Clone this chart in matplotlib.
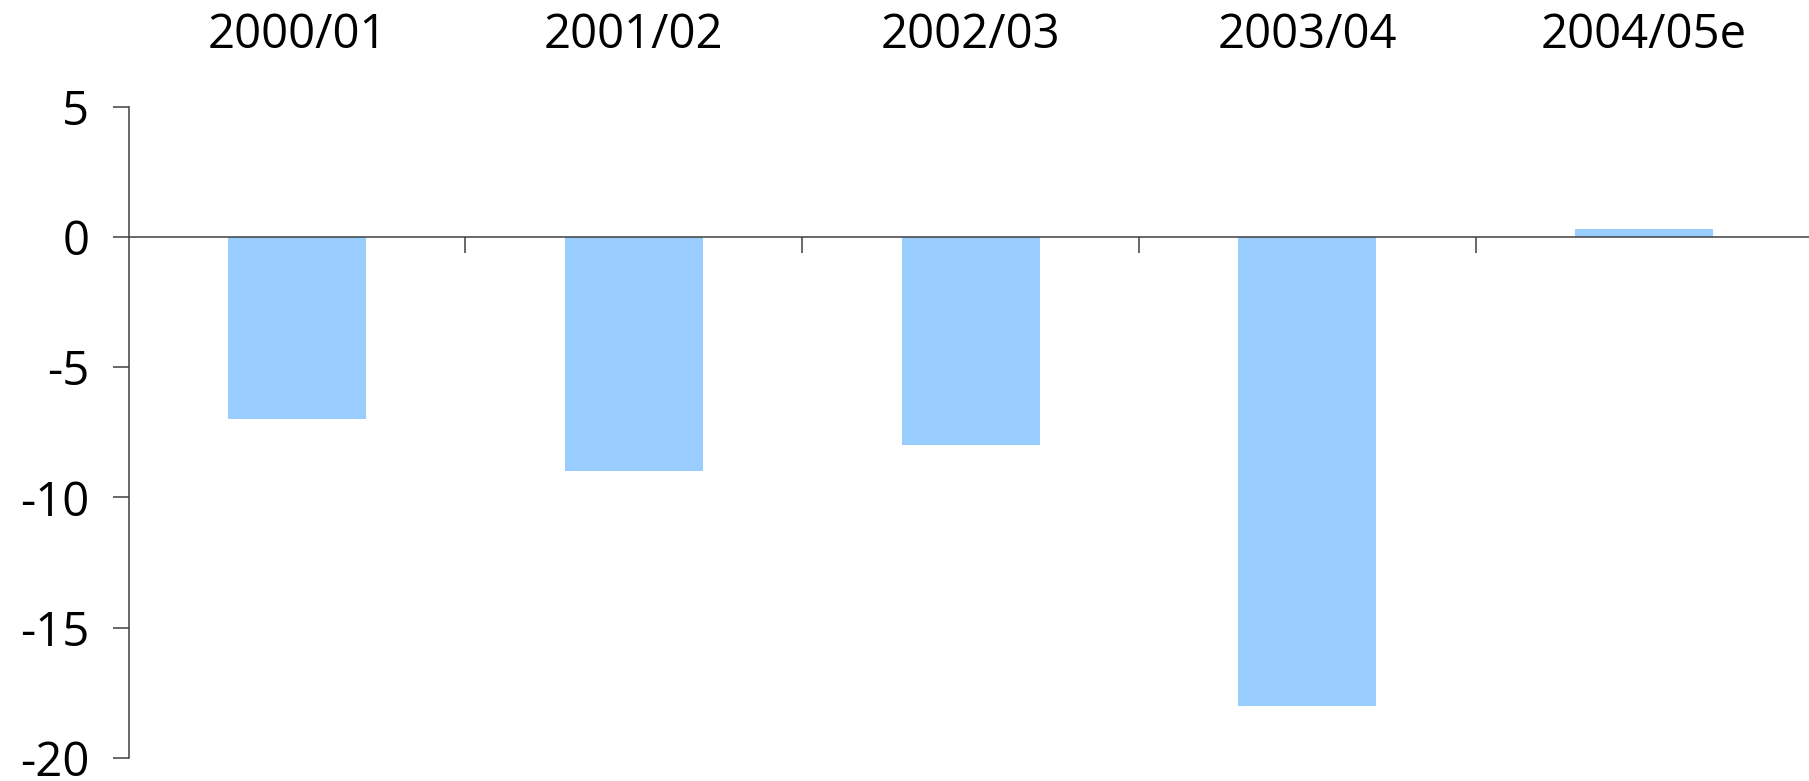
import numpy as np
import matplotlib
matplotlib.use('Agg')
import matplotlib.pyplot as plt
from matplotlib.transforms import blended_transform_factory

# datos
periodos = ['2000/01', '2001/02', '2002/03', '2003/04', '2004/05e']
valores = [-7.0, -9.0, -8.0, -18.0, 0.3]
yticks = [5, 0, -5, -10, -15, -20]

plt.rcParams['font.family'] = ['Open Sans', 'DejaVu Sans']
plt.rcParams['axes.unicode_minus'] = False

gris = '#404040'
fig = plt.figure(figsize=(18.09, 7.81), dpi=100)
ax = fig.add_axes([0.0712, 0.0298, 0.9306, 0.8336])

x = np.arange(len(periodos))
ax.bar(x, valores, width=0.41, color='#99ccff', zorder=1)

ax.set_xlim(-0.5, len(periodos) - 0.5)
ax.set_ylim(-20, 5)
ax.set_yticks(yticks)
ax.set_yticklabels([str(v) for v in yticks])

# eje x en el cero
for s in ['top', 'right']:
    ax.spines[s].set_visible(False)
ax.spines['bottom'].set_position(('data', 0))
ax.spines['bottom'].set_color(gris)
ax.spines['bottom'].set_linewidth(1.1)
ax.spines['bottom'].set_zorder(3)
ax.spines['left'].set_color(gris)
ax.spines['left'].set_linewidth(1.1)

ax.set_xticks(x[:-1] + 0.5)
ax.set_xticklabels([])
ax.tick_params(axis='x', direction='out', length=11.5, width=1.1, color=gris)
ax.tick_params(axis='y', direction='out', length=11.5, width=1.1, color=gris,
               labelsize=34, pad=17)

# etiquetas arriba
tr = blended_transform_factory(ax.transData, ax.transAxes)
for i, p in enumerate(periodos):
    ax.text(i, 1.09, p, transform=tr, ha='center', va='baseline',
            fontsize=34, color='black')

fig.savefig('out.png', dpi=100)
